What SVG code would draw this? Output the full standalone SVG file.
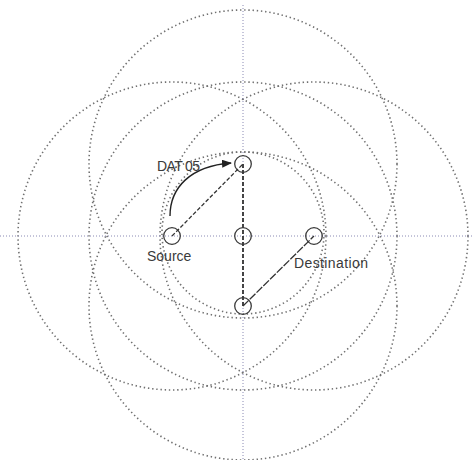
<svg xmlns="http://www.w3.org/2000/svg" width="472" height="460" viewBox="0 0 472 460">
<defs>
<style>
.ring{fill:none;stroke:#707070;stroke-width:1.6;stroke-dasharray:1.4 2.8;stroke-linecap:butt}
.axis{fill:none;stroke:#8a8ab4;stroke-width:1;stroke-dasharray:1 2}
.node{fill:none;stroke:#3a3a3a;stroke-width:1.3}
.link{fill:none;stroke:#333;stroke-width:1.3;stroke-dasharray:4 2}
.lbl{font-family:"Liberation Sans",Arial,sans-serif;font-size:14px;fill:#3a3a3a}
</style>
<marker id="ah" markerWidth="10" markerHeight="8" refX="9" refY="4" orient="auto" markerUnits="userSpaceOnUse">
<path d="M0,0 L10,4 L0,8 Z" fill="#222"/>
</marker>
</defs>
<rect width="472" height="460" fill="#fff"/>
<g id="rings">
<circle class="ring" cx="243" cy="164" r="154"/>
<circle class="ring" cx="243" cy="306" r="154"/>
<circle class="ring" cx="172" cy="236" r="154"/>
<circle class="ring" cx="314" cy="236" r="154"/>
<circle class="ring" cx="243" cy="236" r="154"/>
<circle class="ring" cx="243" cy="233" r="81"/>
</g>
<g id="axes">
<line class="axis" x1="0" y1="236" x2="472" y2="236"/>
<line class="axis" x1="243" y1="5" x2="243" y2="460"/>
</g>
<g id="connectors">
<line class="link" x1="172" y1="236" x2="243" y2="164"/>
<line class="link" x1="243" y1="164" x2="243" y2="306" style="stroke-width:1.8"/>
<line class="link" x1="243" y1="306" x2="314" y2="236" style="stroke-dasharray:8 1.5"/>
<path fill="none" stroke="#222" stroke-width="1.4" d="M170,216 C170,188 190,166 231,163" marker-end="url(#ah)"/>
</g>
<g id="node-top"><circle class="node" cx="243" cy="164" r="8.3"/></g>
<g id="node-center"><circle class="node" cx="243" cy="236" r="8.3"/></g>
<g id="node-bottom"><circle class="node" cx="243" cy="306" r="8.3"/></g>
<g id="node-source"><circle class="node" cx="172" cy="236" r="8.3"/><text class="lbl" x="147" y="261">Source</text></g>
<g id="node-destination"><circle class="node" cx="314" cy="236" r="8.3"/><text class="lbl" x="294" y="268" textLength="74">Destination</text></g>
<g id="label-dat"><text class="lbl" x="157" y="171" textLength="43">DAT 05</text></g>
</svg>
